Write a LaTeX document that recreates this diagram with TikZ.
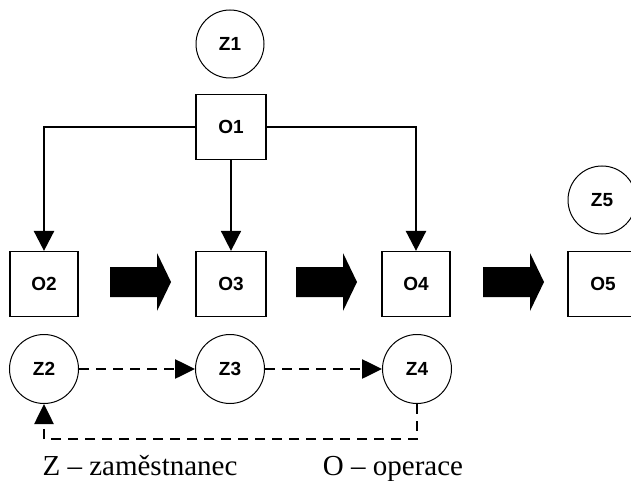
\documentclass[tikz,border=0pt]{standalone}
\usepackage{fontspec}
\setmainfont{Liberation Serif}
\newfontfamily\boxfont{Liberation Sans}
\usetikzlibrary{arrows.meta}
\tikzset{
  opbox/.style={draw, line width=1.2pt, minimum width=68pt, minimum height=65pt, inner sep=0pt, font=\boxfont\bfseries\fontsize{19}{19}\selectfont},
  zcirc/.style={draw, circle, line width=1pt, minimum size=68pt, inner sep=0pt, font=\boxfont\bfseries\fontsize{19}{19}\selectfont},
  solidarr/.style={-{Triangle[length=20pt,width=20pt]}},
  dasharr/.style={line width=2.6pt, dash pattern=on 10pt off 7pt, -{Triangle[length=20pt,width=19pt]}},
  blockarr/.style={fill=black, draw=none},
  legend/.style={font=\fontsize{29}{29}\selectfont, anchor=base, inner sep=0pt}
}
\begin{document}
\begin{tikzpicture}[x=1pt,y=-1pt]
\clip (0,0) rectangle (631,481);
\fill[white] (0,0) rectangle (631,481);
% nodes
\node[zcirc] (z1) at (230,44) {Z1};
\node[opbox, minimum width=70pt] (o1) at (231,127) {O1};
\node[opbox] (o2) at (44,284) {O2};
\node[opbox, minimum width=70pt] (o3) at (231,284) {O3};
\node[opbox] (o4) at (416,284) {O4};
\node[opbox, minimum width=70pt] (o5) at (603,284) {O5};
\node[zcirc] (z5) at (602,200) {Z5};
\node[zcirc, minimum size=69pt] (z2) at (44,369) {Z2};
\node[zcirc, minimum size=69pt] (z3) at (230,369) {Z3};
\node[zcirc, minimum size=69pt] (z4) at (417,369) {Z4};
% connectors from O1
\draw[line width=1.4pt] (o1.west) -- (44,127);
\draw[line width=2.6pt, solidarr] (44,126.3) -- (o2.north);
\draw[line width=1.6pt, solidarr] (o1.south) -- (o3.north);
\draw[line width=1.4pt] (o1.east) -- (416,127);
\draw[line width=2.6pt, solidarr] (416,126.3) -- (o4.north);
% block arrows
\foreach \s in {110,296,483}{
  \path[blockarr] (\s,267) -- (\s+47,267) -- (\s+47,253) -- (\s+61,282) -- (\s+47,311) -- (\s+47,297) -- (\s,297) -- cycle;
}
% dashed arrows
\draw[dasharr] (z2.east) -- (z3.west);
\draw[dasharr] (z3.east) -- (z4.west);
\coordinate (fb) at (417,439);
\draw[dasharr] (z4.south) -- (fb) -| (z2.south);
% legend
\node[legend] (lz) at (140,475) {Z – zaměstnanec};
\node[legend] (lo) at (393,475) {O – operace};
\end{tikzpicture}
\end{document}
